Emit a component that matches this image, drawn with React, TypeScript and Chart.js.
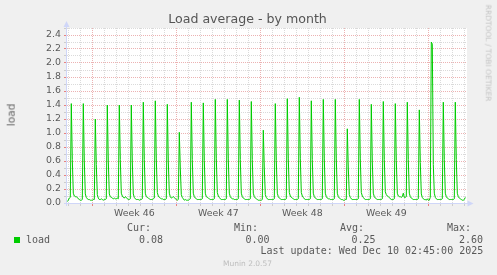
import React, { useEffect, useRef } from 'react';
import { Chart, registerables } from 'chart.js';

Chart.register(...registerables);

// ---- data (hours since first day line; one sample every 2 hours) ----
const leadValue = 0.02; // sample at hour -2
const dayValues: number[][] = [
  [0.04, 0.07, 0.08, 1.42, 0.62, 0.14, 0.10, 0.09, 0.09, 0.08, 0.06, 0.05],
  [0.04, 0.04, 0.05, 1.42, 0.60, 0.13, 0.08, 0.06, 0.05, 0.05, 0.04, 0.04],
  [0.04, 0.05, 0.05, 1.20, 0.55, 0.12, 0.07, 0.05, 0.05, 0.06, 0.05, 0.04],
  [0.05, 0.05, 0.06, 1.40, 0.60, 0.13, 0.09, 0.08, 0.07, 0.06, 0.07, 0.06],
  [0.06, 0.07, 0.06, 1.40, 0.62, 0.14, 0.10, 0.08, 0.07, 0.09, 0.08, 0.06],
  [0.05, 0.05, 0.06, 1.40, 0.60, 0.13, 0.08, 0.06, 0.05, 0.05, 0.05, 0.04],
  [0.05, 0.05, 0.06, 1.44, 0.62, 0.14, 0.09, 0.08, 0.07, 0.06, 0.05, 0.05],
  [0.05, 0.06, 0.07, 1.46, 0.63, 0.15, 0.10, 0.08, 0.07, 0.06, 0.06, 0.05],
  [0.05, 0.05, 0.06, 1.41, 0.60, 0.14, 0.09, 0.07, 0.08, 0.09, 0.08, 0.06],
  [0.05, 0.04, 0.05, 1.01, 0.50, 0.12, 0.08, 0.06, 0.04, 0.05, 0.04, 0.04],
  [0.04, 0.05, 0.06, 1.44, 0.62, 0.14, 0.09, 0.07, 0.06, 0.05, 0.05, 0.05],
  [0.05, 0.05, 0.06, 1.43, 0.61, 0.14, 0.09, 0.08, 0.07, 0.06, 0.05, 0.05],
  [0.05, 0.05, 0.06, 1.48, 0.64, 0.15, 0.10, 0.08, 0.06, 0.05, 0.05, 0.05],
  [0.05, 0.05, 0.06, 1.48, 0.63, 0.14, 0.09, 0.07, 0.06, 0.06, 0.05, 0.05],
  [0.05, 0.05, 0.06, 1.47, 0.62, 0.14, 0.09, 0.07, 0.06, 0.05, 0.05, 0.05],
  [0.05, 0.05, 0.06, 1.45, 0.62, 0.14, 0.09, 0.07, 0.06, 0.05, 0.04, 0.04],
  [0.04, 0.04, 0.05, 1.04, 0.50, 0.12, 0.08, 0.06, 0.05, 0.05, 0.05, 0.05],
  [0.05, 0.05, 0.06, 1.42, 0.61, 0.14, 0.09, 0.07, 0.06, 0.05, 0.05, 0.05],
  [0.05, 0.05, 0.06, 1.49, 0.63, 0.15, 0.10, 0.08, 0.07, 0.06, 0.05, 0.05],
  [0.05, 0.05, 0.06, 1.51, 0.64, 0.15, 0.10, 0.08, 0.06, 0.05, 0.05, 0.05],
  [0.05, 0.05, 0.06, 1.46, 0.62, 0.14, 0.09, 0.07, 0.06, 0.05, 0.05, 0.05],
  [0.05, 0.05, 0.06, 1.48, 0.63, 0.14, 0.09, 0.07, 0.06, 0.06, 0.05, 0.05],
  [0.05, 0.05, 0.06, 1.48, 0.63, 0.14, 0.09, 0.07, 0.06, 0.05, 0.05, 0.04],
  [0.04, 0.05, 0.05, 1.06, 0.50, 0.12, 0.08, 0.06, 0.05, 0.05, 0.05, 0.05],
  [0.05, 0.05, 0.06, 1.48, 0.63, 0.15, 0.10, 0.08, 0.06, 0.05, 0.05, 0.05],
  [0.05, 0.05, 0.06, 1.41, 0.60, 0.14, 0.09, 0.07, 0.06, 0.05, 0.05, 0.05],
  [0.05, 0.05, 0.06, 1.45, 0.62, 0.16, 0.12, 0.10, 0.09, 0.08, 0.06, 0.05],
  [0.05, 0.05, 0.06, 1.42, 0.61, 0.14, 0.10, 0.09, 0.09, 0.08, 0.09, 0.14],
  [0.08, 0.08, 0.09, 1.44, 0.62, 0.14, 0.09, 0.07, 0.06, 0.05, 0.05, 0.05],
  [0.05, 0.05, 0.06, 1.33, 0.58, 0.13, 0.08, 0.06, 0.05, 0.05, 0.04, 0.06],
  [0.04, 0.04, 0.08, 2.30, 2.27, 0.55, 0.14, 0.08, 0.06, 0.05, 0.05, 0.05],
  [0.05, 0.05, 0.06, 1.44, 0.62, 0.14, 0.09, 0.07, 0.06, 0.05, 0.05, 0.05],
  [0.05, 0.05, 0.06, 1.44, 0.62, 0.14, 0.09, 0.07, 0.06, 0.05, 0.04, 0.04],
];
const tailValues = [0.05, 0.08]; // samples after the last full day

const weekTicks = [132, 300, 468, 636];
const weekLabels = ['Week 46', 'Week 47', 'Week 48', 'Week 49'];
const yTickValues = [0, 0.1, 0.2, 0.3, 0.4, 0.5, 0.6, 0.7, 0.8, 0.9, 1.0, 1.1, 1.2, 1.3, 1.4, 1.5, 1.6, 1.7, 1.8, 1.9, 2.0, 2.1, 2.2, 2.3, 2.4, 2.5];
const yTickLabels = ['0.0', '', '0.2', '', '0.4', '', '0.6', '', '0.8', '', '1.0', '', '1.2', '', '1.4', '', '1.6', '', '1.8', '', '2.0', '', '2.2', '', '2.4', ''];
const statLabels = ['Cur:', 'Min:', 'Avg:', 'Max:'];
const statValues = ['0.08', '0.00', '0.25', '2.60'];
const seriesName = 'load';
const lastUpdate = 'Last update: Wed Dec 10 02:45:00 2025';

// ---- styles ----
const W = 497;
const H = 275;
const X_MIN = -2.6;
const X_MAX = 797.4;
const FONT = '#595959';
const AXIS = '#CFD6F8';
const GRID_MINOR = '#dadada';
const GRID_MAJOR = 'rgb(236,178,178)';
const LINE = '#00cc00';

const decorPlugin = {
  id: 'rrdDecor',
  beforeDraw(chart: any) {
    const { ctx, chartArea: a } = chart;
    ctx.save();
    ctx.fillStyle = '#ffffff';
    ctx.fillRect(a.left, a.top, a.right - a.left, a.bottom - a.top);
    ctx.restore();
  },
  afterDraw(chart: any) {
    const { ctx, chartArea: a } = chart;
    ctx.save();
    ctx.strokeStyle = AXIS;
    ctx.lineWidth = 1;
    ctx.beginPath();
    ctx.moveTo(a.left - 3, a.bottom + 0.5);
    ctx.lineTo(a.right + 3, a.bottom + 0.5);
    ctx.moveTo(a.left - 0.5, a.bottom + 3);
    ctx.lineTo(a.left - 0.5, a.top - 3);
    ctx.stroke();
    ctx.fillStyle = AXIS;
    ctx.beginPath();
    ctx.moveTo(a.right + 6.5, a.bottom + 0.5);
    ctx.lineTo(a.right + 0.5, a.bottom - 2.5);
    ctx.lineTo(a.right + 0.5, a.bottom + 3.5);
    ctx.closePath();
    ctx.fill();
    ctx.beginPath();
    ctx.moveTo(a.left - 0.5, a.top - 7);
    ctx.lineTo(a.left - 3.5, a.top - 1);
    ctx.lineTo(a.left + 2.5, a.top - 1);
    ctx.closePath();
    ctx.fill();
    ctx.restore();
  },
};

function buildPoints() {
  const pts: { x: number; y: number }[] = [{ x: -2, y: leadValue }];
  dayValues.forEach((row, d) => row.forEach((v, i) => pts.push({ x: d * 24 + i * 2, y: v })));
  tailValues.forEach((v, i) => pts.push({ x: dayValues.length * 24 + i * 2, y: v }));
  return pts;
}

const isWeekLine = (v: number) => (((v - 48) % 168) + 168) % 168 === 0;

function ChartCanvas() {
  const ref = useRef<HTMLCanvasElement | null>(null);
  useEffect(() => {
    if (!ref.current) return;
    const dayLines: number[] = [];
    for (let h = 0; h <= X_MAX; h += 24) dayLines.push(h);
    const chart = new Chart(ref.current, {
      type: 'line',
      data: {
        datasets: [
          {
            label: seriesName,
            data: buildPoints(),
            borderColor: LINE,
            borderWidth: 1,
            pointRadius: 0,
            tension: 0,
            fill: false,
          },
        ],
      },
      options: {
        responsive: false,
        animation: false,
        devicePixelRatio: 1,
        layout: { padding: { top: 28, right: 30, bottom: 52, left: 0 } },
        plugins: { legend: { display: false }, tooltip: { enabled: false }, title: { display: false } },
        scales: {
          x: {
            type: 'linear',
            position: 'bottom',
            weight: 0,
            min: X_MIN,
            max: X_MAX,
            afterBuildTicks: (s: any) => {
              s.ticks = dayLines.map((v) => ({ value: v }));
            },
            ticks: { display: false, autoSkip: false },
            grid: {
              color: (c: any) => (c.tick && isWeekLine(c.tick.value) ? GRID_MAJOR : GRID_MINOR),
              tickColor: (c: any) => (c.tick && isWeekLine(c.tick.value) ? '#e88080' : '#cccccc'),
              tickLength: 3,
              lineWidth: 1,
            },
            border: { display: false, dash: [1, 1] },
            afterFit: (s: any) => {
              s.height = 0;
              s.paddingLeft = 0;
              s.paddingRight = 0;
            },
          },
          x2: {
            type: 'linear',
            position: 'bottom',
            weight: 1,
            min: X_MIN,
            max: X_MAX,
            afterBuildTicks: (s: any) => {
              s.ticks = weekTicks.map((v) => ({ value: v }));
            },
            ticks: {
              autoSkip: false,
              maxRotation: 0,
              padding: 5,
              color: FONT,
              font: { family: 'DejaVu Sans', size: 9.4 },
              callback: (_v: any, i: number) => weekLabels[i],
            },
            grid: { display: false, drawTicks: false },
            border: { display: false },
            afterFit: (s: any) => {
              s.height = 20;
              s.paddingLeft = 0;
              s.paddingRight = 0;
            },
          },
          y: {
            type: 'linear',
            min: 0,
            max: 2.5,
            afterBuildTicks: (s: any) => {
              s.ticks = yTickValues.map((v) => ({ value: v }));
            },
            ticks: {
              autoSkip: false,
              padding: 3,
              color: FONT,
              font: { family: 'DejaVu Sans', size: 9.4 },
              callback: (_v: any, i: number) => yTickLabels[i],
            },
            grid: {
              color: (c: any) => (c.index % 2 === 0 ? GRID_MAJOR : GRID_MINOR),
              tickColor: (c: any) => (c.index % 2 === 0 ? '#e88080' : '#cccccc'),
              tickLength: 3,
              lineWidth: 1,
            },
            border: { display: false, dash: [1, 1] },
            afterFit: (s: any) => {
              s.width = 67;
              s.paddingTop = 0;
              s.paddingBottom = 0;
            },
          },
        },
      },
      plugins: [decorPlugin],
    } as any);
    return () => chart.destroy();
  }, []);
  return <canvas ref={ref} width={W} height={H} style={{ position: 'absolute', left: 0, top: 0, display: 'block' }} />;
}

const txt = (extra: React.CSSProperties): React.CSSProperties => ({
  position: 'absolute',
  whiteSpace: 'pre',
  margin: 0,
  ...extra,
});

export default function App() {
  const mono = "'DejaVu Sans Mono', monospace";
  const sans = "'DejaVu Sans', sans-serif";
  const statLabelLeft = [127, 234, 340, 447];
  const statValueLeft = [139, 245.5, 351.5, 459];
  return (
    <div style={{ position: 'fixed', left: 0, top: 0, width: W, height: H, background: '#f0f0f0', overflow: 'hidden' }}>
      <ChartCanvas />
      <div style={txt({ left: 247.5, top: 13.4, transform: 'translateX(-50%)', fontFamily: sans, fontSize: 12.6, lineHeight: '12.6px', color: '#555' })}>
        Load average - by month
      </div>
      <div style={txt({ left: 10.5, top: 115, transform: 'translate(-50%,-50%) rotate(-90deg)', fontFamily: sans, fontSize: 10.6, lineHeight: '10.6px', color: '#666' })}>
        load
      </div>
      <div style={txt({ left: 488.3, top: 53.3, transform: 'translate(-50%,-50%) rotate(90deg)', fontFamily: sans, fontSize: 7.5, lineHeight: '7.5px', color: '#c4c4c4' })}>
        RRDTOOL / TOBI OETIKER
      </div>
      {statLabels.map((s, i) => (
        <div key={s} style={txt({ left: statLabelLeft[i], top: 223.1, fontFamily: mono, fontSize: 10, lineHeight: '10px', color: FONT })}>
          {s}
        </div>
      ))}
      <div style={{ position: 'absolute', left: 14, top: 237, width: 6, height: 6, background: LINE }} />
      <div style={txt({ left: 26, top: 234.9, fontFamily: mono, fontSize: 10, lineHeight: '10px', color: FONT })}>{seriesName}</div>
      {statValues.map((s, i) => (
        <div key={i} style={txt({ left: statValueLeft[i], top: 234.9, fontFamily: mono, fontSize: 10, lineHeight: '10px', color: FONT })}>
          {s}
        </div>
      ))}
      <div style={txt({ left: 260.5, top: 246.4, fontFamily: mono, fontSize: 10, lineHeight: '10px', color: FONT })}>{lastUpdate}</div>
      <div style={txt({ left: 247.5, top: 259.8, transform: 'translateX(-50%)', fontFamily: sans, fontSize: 7.5, lineHeight: '7.5px', color: '#bdbdbd' })}>
        Munin 2.0.57
      </div>
    </div>
  );
}
